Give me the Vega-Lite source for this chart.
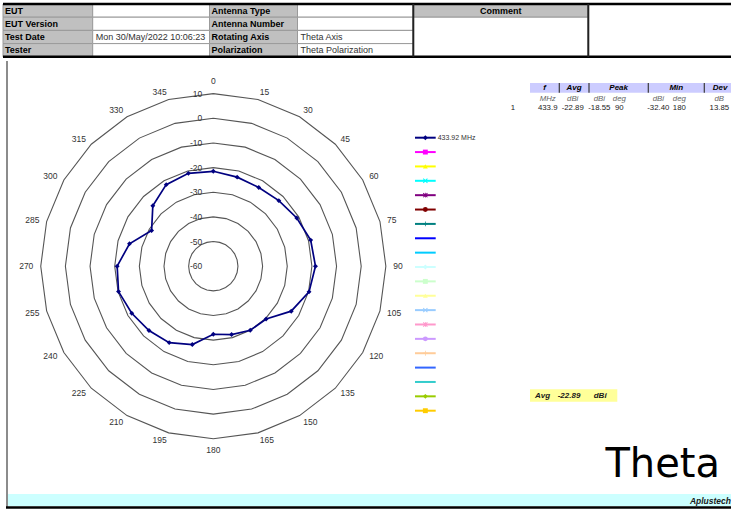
{
"$schema":"https://vega.github.io/schema/vega-lite/v6.json",
"width":731,"height":512,"autosize":"none","padding":0,"background":"#ffffff",
"config":{"view":{"stroke":null},"axis":{"disable":true},"legend":{"disable":true},"font":"Liberation Sans"},
"datasets":{
 "header":[
  {"c0":0,"c1":1,"r0":0,"r1":1,"kind":"label","text":"EUT"},
  {"c0":1,"c1":2,"r0":0,"r1":1,"kind":"value","text":""},
  {"c0":2,"c1":3,"r0":0,"r1":1,"kind":"label","text":"Antenna Type"},
  {"c0":3,"c1":4,"r0":0,"r1":1,"kind":"value","text":""},
  {"c0":4,"c1":5,"r0":0,"r1":1,"kind":"head","text":"Comment"},
  {"c0":5,"c1":6,"r0":0,"r1":4,"kind":"value","text":""},
  {"c0":0,"c1":1,"r0":1,"r1":2,"kind":"label","text":"EUT Version"},
  {"c0":1,"c1":2,"r0":1,"r1":2,"kind":"value","text":""},
  {"c0":2,"c1":3,"r0":1,"r1":2,"kind":"label","text":"Antenna Number"},
  {"c0":3,"c1":4,"r0":1,"r1":2,"kind":"value","text":""},
  {"c0":4,"c1":5,"r0":1,"r1":4,"kind":"value","text":""},
  {"c0":0,"c1":1,"r0":2,"r1":3,"kind":"label","text":"Test Date"},
  {"c0":1,"c1":2,"r0":2,"r1":3,"kind":"value","text":"Mon 30/May/2022 10:06:23"},
  {"c0":2,"c1":3,"r0":2,"r1":3,"kind":"label","text":"Rotating Axis"},
  {"c0":3,"c1":4,"r0":2,"r1":3,"kind":"value","text":"Theta Axis"},
  {"c0":0,"c1":1,"r0":3,"r1":4,"kind":"label","text":"Tester"},
  {"c0":1,"c1":2,"r0":3,"r1":4,"kind":"value","text":""},
  {"c0":2,"c1":3,"r0":3,"r1":4,"kind":"label","text":"Polarization"},
  {"c0":3,"c1":4,"r0":3,"r1":4,"kind":"value","text":"Theta Polarization"}
 ],
 "pattern":[
  {"angle":0,"gain":-21.5},{"angle":15,"gain":-22.6},{"angle":30,"gain":-23.1},{"angle":45,"gain":-22.4},
  {"angle":60,"gain":-20.9},{"angle":75,"gain":-19.1},{"angle":90,"gain":-18.55},{"angle":105,"gain":-19.8},
  {"angle":120,"gain":-23.5},{"angle":135,"gain":-29.7},{"angle":150,"gain":-30.0},{"angle":165,"gain":-31.3},
  {"angle":180,"gain":-32.4},{"angle":195,"gain":-27.1},{"angle":210,"gain":-24.2},{"angle":225,"gain":-23.1},
  {"angle":240,"gain":-21.8},{"angle":255,"gain":-20.2},{"angle":270,"gain":-21.0},{"angle":285,"gain":-24.8},
  {"angle":300,"gain":-31.1},{"angle":315,"gain":-25.3},{"angle":330,"gain":-21.8},{"angle":345,"gain":-21.0},
  {"angle":360,"gain":-21.5}
 ],
 "rings":[
  {"level":10,"angles":[0,15,30,45,60,75,90,105,120,135,150,165,180,195,210,225,240,255,270,285,300,315,330,345,360]},
  {"level":0,"angles":[0,15,30,45,60,75,90,105,120,135,150,165,180,195,210,225,240,255,270,285,300,315,330,345,360]},
  {"level":-10,"angles":[0,15,30,45,60,75,90,105,120,135,150,165,180,195,210,225,240,255,270,285,300,315,330,345,360]},
  {"level":-20,"angles":[0,15,30,45,60,75,90,105,120,135,150,165,180,195,210,225,240,255,270,285,300,315,330,345,360]},
  {"level":-30,"angles":[0,15,30,45,60,75,90,105,120,135,150,165,180,195,210,225,240,255,270,285,300,315,330,345,360]},
  {"level":-40,"angles":[0,15,30,45,60,75,90,105,120,135,150,165,180,195,210,225,240,255,270,285,300,315,330,345,360]},
  {"level":-50,"angles":[0,15,30,45,60,75,90,105,120,135,150,165,180,195,210,225,240,255,270,285,300,315,330,345,360]}
 ],
 "levels":[{"level":10},{"level":0},{"level":-10},{"level":-20},{"level":-30},{"level":-40},{"level":-50},{"level":-60}],
 "angleLabels":[{"a":0},{"a":15},{"a":30},{"a":45},{"a":60},{"a":75},{"a":90},{"a":105},{"a":120},{"a":135},{"a":150},{"a":165},{"a":180},{"a":195},{"a":210},{"a":225},{"a":240},{"a":255},{"a":270},{"a":285},{"a":300},{"a":315},{"a":330},{"a":345}],
 "legend":[
  {"i":1,"name":"433.92 MHz"},{"i":2,"name":""},{"i":3,"name":""},{"i":4,"name":""},{"i":5,"name":""},
  {"i":6,"name":""},{"i":7,"name":""},{"i":8,"name":""},{"i":9,"name":""},{"i":10,"name":""},
  {"i":11,"name":""},{"i":12,"name":""},{"i":13,"name":""},{"i":14,"name":""},{"i":15,"name":""},
  {"i":16,"name":""},{"i":17,"name":""},{"i":18,"name":""},{"i":19,"name":""},{"i":20,"name":""}
 ],
 "statGroups":[{"g":0,"label":"f"},{"g":1,"label":"Avg"},{"g":2,"label":"Peak"},{"g":3,"label":"Min"},{"g":4,"label":"Dev"}],
 "statCells":[
  {"row":1,"col":1,"text":"MHz"},{"row":1,"col":2,"text":"dBi"},{"row":1,"col":3,"text":"dBi"},{"row":1,"col":4,"text":"deg"},
  {"row":1,"col":5,"text":"dBi"},{"row":1,"col":6,"text":"deg"},{"row":1,"col":7,"text":"dB"},
  {"row":2,"col":0,"text":"1"},{"row":2,"col":1,"text":"433.9"},{"row":2,"col":2,"text":"-22.89"},{"row":2,"col":3,"text":"-18.55"},
  {"row":2,"col":4,"text":"90"},{"row":2,"col":5,"text":"-32.40"},{"row":2,"col":6,"text":"180"},{"row":2,"col":7,"text":"13.85"}
 ],
 "avgCells":[{"c":0,"text":"Avg"},{"c":1,"text":"-22.89"},{"c":2,"text":"dBi"}]
},
"layer":[
 {"data":{"name":"header"},
  "layer":[
   {"mark":{"type":"rect","stroke":"#9a9a9a","strokeWidth":1},
    "encoding":{
     "x":{"field":"c0","type":"quantitative","scale":{"domain":[0,1,2,3,4,5,6],"range":[3,92.7,209.5,297.5,413.3,588.3,735],"nice":false,"zero":false}},
     "x2":{"field":"c1"},
     "y":{"field":"r0","type":"quantitative","scale":{"domain":[0,4],"range":[4,56.8],"nice":false,"zero":false}},
     "y2":{"field":"r1"},
     "fill":{"field":"kind","type":"nominal","scale":{"domain":["label","head","value"],"range":["#c0c0c0","#c0c0c0","#ffffff"]}}}},
   {"transform":[{"filter":"datum.kind == 'label'"},{"calculate":"datum.r0 + 0.5","as":"ym"}],
    "mark":{"type":"text","align":"left","baseline":"middle","dx":2,"fontSize":9,"fontWeight":"bold","color":"#000000"},
    "encoding":{"x":{"field":"c0","type":"quantitative"},"y":{"field":"ym","type":"quantitative"},"text":{"field":"text"}}},
   {"transform":[{"filter":"datum.kind == 'value'"},{"calculate":"datum.r0 + 0.5","as":"ym"}],
    "mark":{"type":"text","align":"left","baseline":"middle","dx":3,"fontSize":9,"color":"#333333"},
    "encoding":{"x":{"field":"c0","type":"quantitative"},"y":{"field":"ym","type":"quantitative"},"text":{"field":"text"}}},
   {"transform":[{"filter":"datum.kind == 'head'"},{"calculate":"datum.r0 + 0.5","as":"ym"},{"calculate":"(datum.c0 + datum.c1)/2","as":"xm"}],
    "mark":{"type":"text","align":"center","baseline":"middle","fontSize":9,"fontWeight":"bold","color":"#000000"},
    "encoding":{"x":{"field":"xm","type":"quantitative"},"y":{"field":"ym","type":"quantitative"},"text":{"field":"text"}}},
   {"data":{"values":[{"r":0},{"r":4}]},
    "mark":{"type":"rule","strokeWidth":2.5,"color":"#000000"},
    "encoding":{"x":{"datum":0,"type":"quantitative"},"x2":{"datum":6},"y":{"field":"r","type":"quantitative"}}},
   {"data":{"values":[{"c":4},{"c":5}]},
    "mark":{"type":"rule","strokeWidth":2,"color":"#222222"},
    "encoding":{"x":{"field":"c","type":"quantitative"},"y":{"datum":0,"type":"quantitative"},"y2":{"datum":4}}}
  ]},
 {"layer":[
   {"data":{"name":"rings"},
    "transform":[{"flatten":["angles"],"as":["a"]},{"calculate":"(datum.level+60)*sin(datum.a*PI/180)","as":"px"},{"calculate":"(datum.level+60)*cos(datum.a*PI/180)","as":"py"}],
    "mark":{"type":"line","color":"#555555","strokeWidth":1.1},
    "encoding":{
     "x":{"field":"px","type":"quantitative","scale":{"domain":[-70,70],"range":[40.75,385.85],"nice":false,"zero":false}},
     "y":{"field":"py","type":"quantitative","scale":{"domain":[-70,70],"range":[438.75,93.65],"nice":false,"zero":false}},
     "detail":{"field":"level","type":"nominal"},
     "order":{"field":"a","type":"quantitative"}}},
   {"data":{"name":"levels"},
    "transform":[{"calculate":"datum.level+60","as":"py"}],
    "mark":{"type":"text","align":"right","baseline":"middle","fontSize":8.5,"color":"#333333"},
    "encoding":{"x":{"datum":-4.5,"type":"quantitative"},"y":{"field":"py","type":"quantitative"},"text":{"field":"level","type":"nominal"}}},
   {"data":{"name":"angleLabels"},
    "transform":[{"filter":"datum.a > 0 && datum.a < 180"},{"calculate":"73*sin(datum.a*PI/180)","as":"px"},{"calculate":"73*cos(datum.a*PI/180)","as":"py"}],
    "mark":{"type":"text","align":"left","baseline":"middle","fontSize":8.5,"color":"#333333"},
    "encoding":{"x":{"field":"px","type":"quantitative"},"y":{"field":"py","type":"quantitative"},"text":{"field":"a","type":"nominal"}}},
   {"data":{"name":"angleLabels"},
    "transform":[{"filter":"datum.a > 180"},{"calculate":"73*sin(datum.a*PI/180)","as":"px"},{"calculate":"73*cos(datum.a*PI/180)","as":"py"}],
    "mark":{"type":"text","align":"right","baseline":"middle","fontSize":8.5,"color":"#333333"},
    "encoding":{"x":{"field":"px","type":"quantitative"},"y":{"field":"py","type":"quantitative"},"text":{"field":"a","type":"nominal"}}},
   {"data":{"name":"angleLabels"},
    "transform":[{"filter":"datum.a == 0"},{"calculate":"73*sin(datum.a*PI/180)","as":"px"},{"calculate":"73*cos(datum.a*PI/180)","as":"py"}],
    "mark":{"type":"text","align":"center","baseline":"bottom","fontSize":8.5,"color":"#333333"},
    "encoding":{"x":{"field":"px","type":"quantitative"},"y":{"field":"py","type":"quantitative"},"text":{"field":"a","type":"nominal"}}},
   {"data":{"name":"angleLabels"},
    "transform":[{"filter":"datum.a == 180"},{"calculate":"73*sin(datum.a*PI/180)","as":"px"},{"calculate":"73*cos(datum.a*PI/180)","as":"py"}],
    "mark":{"type":"text","align":"center","baseline":"top","fontSize":8.5,"color":"#333333"},
    "encoding":{"x":{"field":"px","type":"quantitative"},"y":{"field":"py","type":"quantitative"},"text":{"field":"a","type":"nominal"}}},
   {"data":{"name":"pattern"},
    "transform":[{"calculate":"(datum.gain+60)*sin(datum.angle*PI/180)","as":"px"},{"calculate":"(datum.gain+60)*cos(datum.angle*PI/180)","as":"py"}],
    "mark":{"type":"line","color":"#000080","strokeWidth":1.7},
    "encoding":{"x":{"field":"px","type":"quantitative"},"y":{"field":"py","type":"quantitative"},"order":{"field":"angle","type":"quantitative"}}},
   {"data":{"name":"pattern"},
    "transform":[{"filter":"datum.angle < 360"},{"calculate":"(datum.gain+60)*sin(datum.angle*PI/180)","as":"px"},{"calculate":"(datum.gain+60)*cos(datum.angle*PI/180)","as":"py"}],
    "mark":{"type":"point","shape":"diamond","filled":true,"size":24,"color":"#000080","opacity":1},
    "encoding":{"x":{"field":"px","type":"quantitative"},"y":{"field":"py","type":"quantitative"}}}
  ]},
 {"data":{"name":"legend"},
  "layer":[
   {"mark":{"type":"rule","strokeWidth":2},
    "encoding":{
     "x":{"datum":0,"type":"quantitative","scale":{"domain":[0,1],"range":[415,435.7],"nice":false,"zero":false}},
     "x2":{"datum":1},
     "y":{"field":"i","type":"quantitative","scale":{"domain":[1,20],"range":[137.7,410.7],"nice":false,"zero":false}},
     "color":{"field":"i","type":"nominal","scale":{"domain":[1,2,3,4,5,6,7,8,9,10,11,12,13,14,15,16,17,18,19,20],"range":["#000080","#ff00ff","#ffff00","#00ffff","#800080","#800000","#008080","#0000ff","#00ccff","#ccffff","#ccffcc","#ffff99","#99ccff","#ff99cc","#cc99ff","#ffcc99","#3366ff","#33cccc","#99cc00","#ffcc00"]}}}},
   {"transform":[{"filter":"datum.i != 8 && datum.i != 9 && datum.i != 17 && datum.i != 18"}],
    "mark":{"type":"point","filled":true,"size":24,"opacity":1},
    "encoding":{
     "x":{"datum":0.5,"type":"quantitative"},
     "y":{"field":"i","type":"quantitative"},
     "color":{"field":"i","type":"nominal"},
     "shape":{"field":"i","type":"nominal","scale":{"domain":[1,2,3,4,5,6,7,10,11,12,13,14,15,16,19,20],"range":["diamond","square","triangle-up","M-1,-0.7L-0.7,-1L0,-0.3L0.7,-1L1,-0.7L0.3,0L1,0.7L0.7,1L0,0.3L-0.7,1L-1,0.7L-0.3,0Z","M-1,-0.7L-0.7,-1L0,-0.3L0.7,-1L1,-0.7L0.3,0L1,0.7L0.7,1L0,0.3L-0.7,1L-1,0.7L-0.3,0Z M-0.15,-1L0.15,-1L0.15,1L-0.15,1Z","circle","M-1,-0.15L1,-0.15L1,0.15L-1,0.15Z M-0.15,-1L0.15,-1L0.15,1L-0.15,1Z","diamond","square","triangle-up","M-1,-0.7L-0.7,-1L0,-0.3L0.7,-1L1,-0.7L0.3,0L1,0.7L0.7,1L0,0.3L-0.7,1L-1,0.7L-0.3,0Z","M-1,-0.7L-0.7,-1L0,-0.3L0.7,-1L1,-0.7L0.3,0L1,0.7L0.7,1L0,0.3L-0.7,1L-1,0.7L-0.3,0Z M-0.15,-1L0.15,-1L0.15,1L-0.15,1Z","circle","M-1,-0.15L1,-0.15L1,0.15L-1,0.15Z M-0.15,-1L0.15,-1L0.15,1L-0.15,1Z","diamond","square"]}}}},
   {"transform":[{"filter":"datum.name != ''"}],
    "mark":{"type":"text","align":"left","baseline":"middle","dx":2,"fontSize":7,"color":"#333333"},
    "encoding":{"x":{"datum":1,"type":"quantitative"},"y":{"field":"i","type":"quantitative"},"text":{"field":"name"}}}
  ]},
 {"layer":[
   {"data":{"values":[{}]},
    "mark":{"type":"rect","color":"#ccccff"},
    "encoding":{
     "x":{"datum":0,"type":"quantitative","scale":{"domain":[0,1,2,3,4,5],"range":[530,559.3,589,648.3,704.3,736],"nice":false,"zero":false}},
     "x2":{"datum":5},
     "y":{"datum":0,"type":"quantitative","scale":{"domain":[0,1],"range":[83,92.7],"nice":false,"zero":false}},
     "y2":{"datum":1}}},
   {"data":{"name":"statGroups"},"transform":[{"filter":"datum.g > 0"}],
    "mark":{"type":"rule","color":"#3a3a3a","strokeWidth":1.2},
    "encoding":{"x":{"field":"g","type":"quantitative"},"y":{"datum":0,"type":"quantitative"},"y2":{"datum":1}}},
   {"data":{"name":"statGroups"},"transform":[{"calculate":"datum.g + 0.5","as":"gm"}],
    "mark":{"type":"text","align":"center","baseline":"middle","fontSize":8,"fontWeight":"bold","fontStyle":"italic","color":"#000000"},
    "encoding":{"x":{"field":"gm","type":"quantitative"},"y":{"datum":0.5,"type":"quantitative"},"text":{"field":"label"}}}
  ]},
 {"data":{"name":"statCells"},
  "layer":[
   {"transform":[{"filter":"datum.row == 1"}],
    "mark":{"type":"text","align":"center","baseline":"middle","fontSize":7.8,"fontStyle":"italic","color":"#666666"},
    "encoding":{
     "x":{"field":"col","type":"quantitative","scale":{"domain":[0,1,2,3,4,5,6,7],"range":[513,547.7,572.7,599.3,619.3,658.3,679.3,719.3],"nice":false,"zero":false}},
     "y":{"field":"row","type":"quantitative","scale":{"domain":[1,2],"range":[99,108.3],"nice":false,"zero":false}},
     "text":{"field":"text"}}},
   {"transform":[{"filter":"datum.row == 2"}],
    "mark":{"type":"text","align":"center","baseline":"middle","fontSize":7.8,"color":"#222222"},
    "encoding":{"x":{"field":"col","type":"quantitative"},"y":{"field":"row","type":"quantitative"},"text":{"field":"text"}}}
  ]},
 {"layer":[
   {"data":{"values":[{}]},
    "mark":{"type":"rect","color":"#ffff99"},
    "encoding":{
     "x":{"datum":0,"type":"quantitative","scale":{"domain":[0,1,2,3],"range":[530,555,583,617.3],"nice":false,"zero":false}},
     "x2":{"datum":3},
     "y":{"datum":0,"type":"quantitative","scale":{"domain":[0,1],"range":[389.3,401.7],"nice":false,"zero":false}},
     "y2":{"datum":1}}},
   {"data":{"name":"avgCells"},"transform":[{"calculate":"datum.c + 0.5","as":"cm"}],
    "mark":{"type":"text","align":"center","baseline":"middle","fontSize":8,"fontWeight":"bold","fontStyle":"italic","color":"#1a1a1a"},
    "encoding":{"x":{"field":"cm","type":"quantitative"},"y":{"datum":0.5,"type":"quantitative"},"text":{"field":"text"}}}
  ]},
 {"data":{"values":[{}]},
  "layer":[
   {"mark":{"type":"rect","color":"#ccffff"},
    "encoding":{
     "x":{"datum":8,"type":"quantitative","scale":{"domain":[0,731],"range":[0,731],"nice":false,"zero":false}},
     "x2":{"datum":731},
     "y":{"datum":494,"type":"quantitative","scale":{"domain":[0,512],"range":[0,512],"nice":false,"zero":false}},
     "y2":{"datum":506}}},
   {"mark":{"type":"rule","color":"#8c8c8c","strokeWidth":2},
    "encoding":{"x":{"datum":7,"type":"quantitative"},"y":{"datum":61,"type":"quantitative"},"y2":{"datum":507}}},
   {"mark":{"type":"rule","color":"#000000","strokeWidth":2.5},
    "encoding":{"x":{"datum":6,"type":"quantitative"},"x2":{"datum":731},"y":{"datum":507.5,"type":"quantitative"}}},
   {"mark":{"type":"text","text":"Theta","align":"right","baseline":"alphabetic","font":"DejaVu Sans","fontSize":40,"color":"#000000"},
    "encoding":{"x":{"datum":720,"type":"quantitative"},"y":{"datum":477,"type":"quantitative"}}},
   {"mark":{"type":"text","text":"Aplustech","align":"right","baseline":"alphabetic","fontSize":8.5,"fontWeight":"bold","fontStyle":"italic","color":"#1a1a1a"},
    "encoding":{"x":{"datum":731,"type":"quantitative"},"y":{"datum":503.5,"type":"quantitative"}}}
  ]}
],
"resolve":{"scale":{"x":"independent","y":"independent","color":"independent","shape":"independent","fill":"independent"}}
}
